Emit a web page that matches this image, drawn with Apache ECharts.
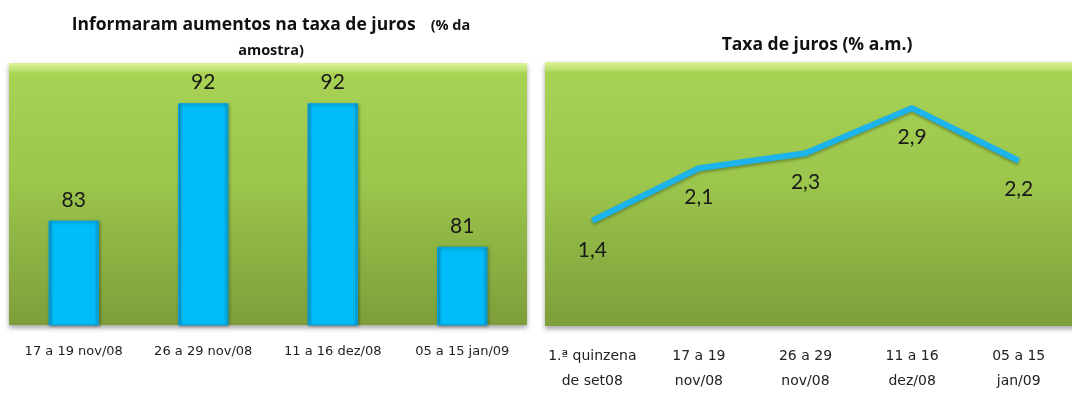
<!DOCTYPE html>
<html>
<head>
<meta charset="utf-8">
<style>
  html, body { margin: 0; padding: 0; background: #fff; }
  #main { width: 1072px; height: 404px; }
</style>
</head>
<body>
<div id="main"></div>
<script src="https://cdn.jsdelivr.net/npm/echarts@6/dist/echarts.min.js"></script>
<script>
// dados
var barCats = ['17 a 19 nov/08', '26 a 29 nov/08', '11 a 16 dez/08', '05 a 15 jan/09'];
var barVals = [83, 92, 92, 81];
var lineCats = ['1.ª quinzena\nde set08', '17 a 19\nnov/08', '26 a 29\nnov/08', '11 a 16\ndez/08', '05 a 15\njan/09'];
var lineVals = [1.4, 2.1, 2.3, 2.9, 2.2];

var chart = echarts.init(document.getElementById('main'));

// fundo verde da area de plotagem
function greenBg() {
    return new echarts.graphic.LinearGradient(0, 0, 0, 1, [
        { offset: 0, color: '#dcf29a' },
        { offset: 0.025, color: '#bfe271' },
        { offset: 0.04, color: '#a8d254' },
        { offset: 0.45, color: '#9cc64c' },
        { offset: 1, color: '#7d9e3a' }
    ]);
}
var barColor = new echarts.graphic.LinearGradient(0, 0, 1, 0, [
    { offset: 0, color: '#0b93c4' },
    { offset: 0.1, color: '#00bcf8' },
    { offset: 0.9, color: '#00bcf8' },
    { offset: 1, color: '#0b93c4' }
]);

var labelFont = 'DejaVu Sans';
var titleFont = 'Open Sans';
var valFont = 'Lato';

option = {
    animation: false,
    title: [
        {
            text: '{a|Informaram aumentos na taxa de juros}   {b|(% da}\n{b|amostra)}',
            left: 266,
            top: 8,
            textAlign: 'center',
            textStyle: {
                rich: {
                    a: { fontFamily: titleFont, fontWeight: 'bold', fontSize: 17.5, color: '#111', lineHeight: 25 },
                    b: { fontFamily: titleFont, fontWeight: 'bold', fontSize: 14.5, color: '#111', lineHeight: 25 }
                }
            }
        },
        {
            text: 'Taxa de juros (% a.m.)',
            left: 812,
            top: 31,
            textAlign: 'center',
            textStyle: { fontFamily: titleFont, fontWeight: 'bold', fontSize: 17.5, color: '#111' }
        }
    ],
    graphic: [
        {
            type: 'rect', z: 0,
            shape: { x: 9, y: 63, width: 518, height: 262 },
            style: { fill: greenBg(), shadowBlur: 5, shadowOffsetY: 3, shadowColor: 'rgba(0,0,0,0.35)' }
        },
        {
            type: 'rect', z: 0,
            shape: { x: 545, y: 62, width: 540, height: 264 },
            style: { fill: greenBg(), shadowBlur: 5, shadowOffsetY: 3, shadowColor: 'rgba(0,0,0,0.35)' }
        }
    ],
    grid: [
        { left: 9, width: 518, top: 64, bottom: 79 },
        { left: 539, width: 540, top: 63, bottom: 78 }
    ],
    xAxis: [
        {
            type: 'category', gridIndex: 0, data: barCats,
            axisLine: { show: false }, axisTick: { show: false },
            axisLabel: { fontFamily: labelFont, fontSize: 13, color: '#222', margin: 20, interval: 0 }
        },
        {
            type: 'category', gridIndex: 1, data: lineCats,
            axisLine: { show: false }, axisTick: { show: false },
            axisLabel: { fontFamily: labelFont, fontSize: 14, color: '#222', margin: 18, lineHeight: 25, interval: 0 }
        }
    ],
    yAxis: [
        { type: 'value', gridIndex: 0, min: 75, max: 95, show: false },
        { type: 'value', gridIndex: 1, min: 0, max: 3.5, show: false }
    ],
    series: [
        {
            type: 'bar', xAxisIndex: 0, yAxisIndex: 0, data: barVals,
            barWidth: '39%',
            itemStyle: {
                color: barColor,
                borderColor: '#0aa6dc', borderWidth: 1,
                shadowBlur: 3, shadowOffsetX: 1, shadowOffsetY: 1, shadowColor: 'rgba(0,0,0,0.35)'
            },
            label: { show: true, position: 'top', distance: 10, fontFamily: valFont, fontSize: 21, color: '#1a1a1a' },
            z: 3
        },
        {
            type: 'line', xAxisIndex: 1, yAxisIndex: 1, data: lineVals,
            symbol: 'circle', symbolSize: 1,
            itemStyle: { color: '#1cb4ea' },
            lineStyle: { width: 6, color: '#1cb4ea', shadowBlur: 3, shadowOffsetY: 2, shadowColor: 'rgba(0,0,0,0.3)' },
            label: {
                show: true, position: 'bottom', distance: 18,
                fontFamily: valFont, fontSize: 21, color: '#1a1a1a',
                formatter: function (p) { return String(p.value).replace('.', ','); }
            },
            z: 3
        }
    ]
};
chart.setOption(option);
</script>
</body>
</html>
